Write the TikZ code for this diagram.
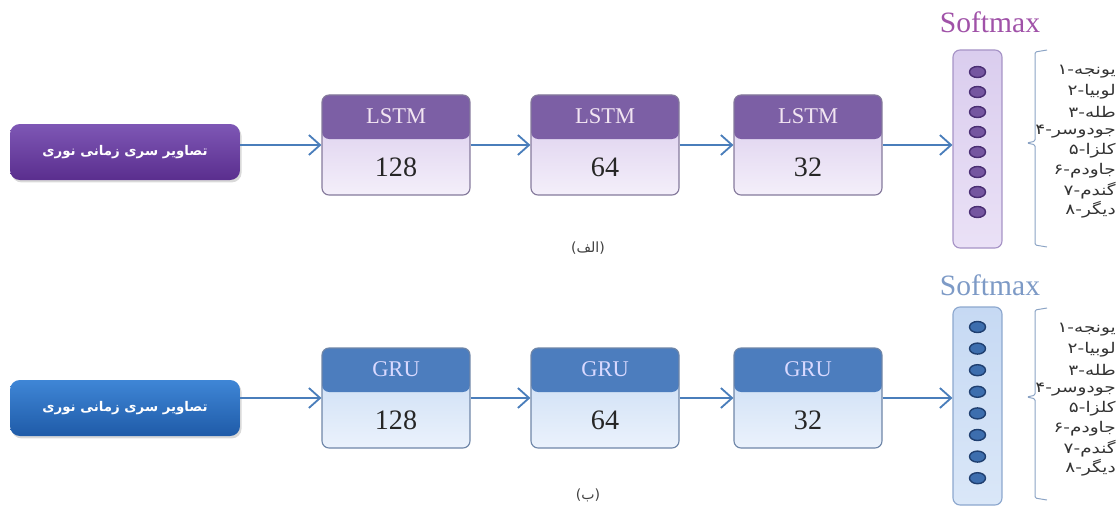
\documentclass[tikz,border=0pt]{standalone}
\usepackage{fontspec}
\setmainfont{Liberation Serif}
\newfontfamily\arabicfont[Script=Arabic]{DejaVu Sans}
\newfontfamily\arabicwide[Script=Arabic, FakeStretch=1.25]{DejaVu Sans}
\TeXXeTstate=1
\usepackage{tikz}
\usetikzlibrary{arrows.meta,positioning,shapes.geometric,shadows}
\usepackage{xcolor}
\definecolor{arrowblue}{HTML}{4A7EBB}
\definecolor{brkgray}{HTML}{8BA3C4}
\definecolor{purin}{HTML}{7E57B5}
\definecolor{purinb}{HTML}{5A2E8E}
\definecolor{lstmhd}{HTML}{7C5FA5}
\definecolor{lstmtop}{HTML}{D7C8EB}
\definecolor{lstmbot}{HTML}{F4EFFA}
\definecolor{lstmedge}{HTML}{857A9C}
\definecolor{pcoltop}{HTML}{DACDEE}
\definecolor{pcolbot}{HTML}{EAE1F6}
\definecolor{pcoledge}{HTML}{A693C6}
\definecolor{punit}{HTML}{7556A0}
\definecolor{punitedge}{HTML}{4A2E73}
\definecolor{psoft}{HTML}{A052A8}
\definecolor{bluin}{HTML}{3F86D6}
\definecolor{bluinb}{HTML}{1F5BA8}
\definecolor{gruhd}{HTML}{4C7DBE}
\definecolor{grutop}{HTML}{C4D9F3}
\definecolor{grubot}{HTML}{EBF2FC}
\definecolor{gruedge}{HTML}{6F86A8}
\definecolor{bcoltop}{HTML}{C6D9F3}
\definecolor{bcolbot}{HTML}{DAE7F8}
\definecolor{bcoledge}{HTML}{8CA7CE}
\definecolor{bunit}{HTML}{3D6EAE}
\definecolor{bunitedge}{HTML}{1F3F70}
\definecolor{bsoft}{HTML}{7D9AC6}
% digit, dash and word set as separate runs, digit on the left
\newcommand\clsitem[2]{#1\kern0pt-\kern0pt#2}

\begin{document}
\begin{tikzpicture}[
  inbox/.style={rounded corners=7pt, minimum width=5.75cm, minimum height=1.4cm, inner sep=2pt,
    text=white, font=\arabicfont\bfseries\fontsize{9.5}{11}\selectfont,
    drop shadow={opacity=0.3, shadow xshift=0.04cm, shadow yshift=-0.06cm}},
  cell/.style n args={4}{draw=#1, line width=0.8pt, rounded corners=5pt,
    minimum width=3.7cm, minimum height=2.5cm, inner sep=0pt, top color=#2, bottom color=#3,
    path picture={\fill[#4] (path picture bounding box.north west) rectangle ([yshift=-1.1cm]path picture bounding box.north east);}},
  hd/.style={font=\fontsize{16}{18}\selectfont, text=white!90!violet},
  num/.style={font=\fontsize{20}{22}\selectfont, text=black!85},
  col/.style n args={3}{draw=#1, line width=0.8pt, rounded corners=5pt,
    minimum width=1.225cm, minimum height=4.95cm, inner sep=0pt, top color=#2, bottom color=#3},
  unit/.style n args={2}{ellipse, draw=#1, fill=#2, line width=1pt,
    minimum width=0.4cm, minimum height=0.275cm, inner sep=0pt},
  smx/.style={font=\fontsize{21}{24}\selectfont, anchor=base},
  cls/.style={anchor=east, inner sep=0pt, text=black!80, font=\arabicwide\fontsize{10.5}{12}\selectfont},
  brk/.style={draw=brkgray, line width=0.7pt, rounded corners=1pt},
  subcap/.style={text=black!75, font=\arabicfont\fontsize{10}{11}\selectfont},
  arr/.style={draw=arrowblue, line width=1.3pt, -{Straight Barb[length=2.8mm, width=5mm, line width=1.3pt]}}
]
\useasboundingbox (0,0) rectangle (28,-12.675);
% Panel A: LSTM
\node[inbox, top color=purin, bottom color=purinb] (in1) at (3.125,-3.8) {\beginR تصاویر سری زمانی نوری\endR};
\foreach \n/\x/\u in {1/9.9/128, 2/15.125/64, 3/20.2/32} {
  \node[cell={lstmedge}{lstmtop}{lstmbot}{lstmhd}] (l\n) at (\x,-3.625) {};
  \node[hd] (lh\n) at ([yshift=-0.55cm]l\n.north) {LSTM};
  \node[num] (lu\n) at ([yshift=0.7cm]l\n.south) {\u};
}
\node[col={pcoledge}{pcoltop}{pcolbot}] (s1) at (24.4375,-3.725) {};
\foreach \k in {0,...,7} {\node[unit={punitedge}{punit}] (pa\k) at (24.4375,{-1.8-0.5*\k}) {};}
\node[smx, text=psoft] (sma) at (24.75,-0.825) {Softmax};
\draw[brk] (26.175,-1.25) -- (25.875,-1.3) -- (25.875,-3.53) -- (25.675,-3.575) -- (25.875,-3.62) -- (25.875,-6.125) -- (26.175,-6.175);
\foreach \d/\w [count=\i from 0] in {۱/یونجه,۲/لوبیا,۳/طله,۴/جودوسر,۵/کلزا,۶/جاودم,۷/گندم,۸/دیگر} {
  \node[cls] (ca\i) at (27.9,{-1.8-0.4925*\i}) {\clsitem{\d}{\w}};
}
\draw[arr] (l1.west -| in1.east) -- (l1.west);
\draw[arr] (l1.east) -- (l2.west);
\draw[arr] (l2.east) -- (l3.west);
\draw[arr] (l3.east) -- (l3.east -| s1.west);
\node[subcap] (capa) at (14.7,-6.2) {\beginR(الف)\endR};
% Panel B: GRU
\node[inbox, top color=bluin, bottom color=bluinb] (in2) at (3.125,-10.2) {\beginR تصاویر سری زمانی نوری\endR};
\foreach \n/\x/\u in {1/9.9/128, 2/15.125/64, 3/20.2/32} {
  \node[cell={gruedge}{grutop}{grubot}{gruhd}] (g\n) at (\x,-9.95) {};
  \node[hd, text=white!85!blue] (gh\n) at ([yshift=-0.55cm]g\n.north) {GRU};
  \node[num] (gu\n) at ([yshift=0.7cm]g\n.south) {\u};
}
\node[col={bcoledge}{bcoltop}{bcolbot}] (s2) at (24.4375,-10.15) {};
\foreach \k in {0,...,7} {\node[unit={bunitedge}{bunit}] (pb\k) at (24.4375,{-8.175-0.54*\k}) {};}
\node[smx, text=bsoft] (smb) at (24.75,-7.375) {Softmax};
\draw[brk] (26.175,-7.7) -- (25.875,-7.75) -- (25.875,-9.88) -- (25.675,-9.925) -- (25.875,-9.97) -- (25.875,-12.45) -- (26.175,-12.5);
\foreach \d/\w [count=\i from 0] in {۱/یونجه,۲/لوبیا,۳/طله,۴/جودوسر,۵/کلزا,۶/جاودم,۷/گندم,۸/دیگر} {
  \node[cls] (cb\i) at (27.9,{-8.25-0.4925*\i}) {\clsitem{\d}{\w}};
}
\draw[arr] (g1.west -| in2.east) -- (g1.west);
\draw[arr] (g1.east) -- (g2.west);
\draw[arr] (g2.east) -- (g3.west);
\draw[arr] (g3.east) -- (g3.east -| s2.west);
\node[subcap] (capb) at (14.7,-12.375) {\beginR(ب)\endR};
\end{tikzpicture}
\end{document}
